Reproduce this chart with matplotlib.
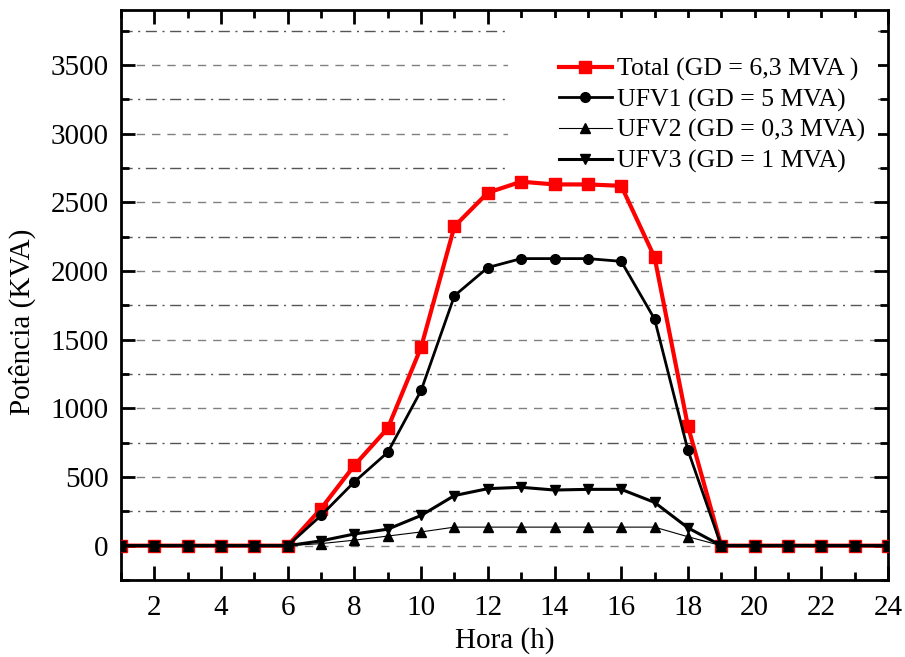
import matplotlib.pyplot as plt
from matplotlib.ticker import MultipleLocator
from matplotlib.patches import Rectangle
import numpy as np

plt.rcParams['font.family'] = ['Liberation Serif', 'DejaVu Serif']

hours = np.arange(1, 25)
total = [0, 0, 0, 0, 0, 0, 270, 585, 855, 1445, 2325, 2570, 2650, 2630, 2630, 2620,
         2100, 870, 0, 0, 0, 0, 0, 0]
ufv1 = [0, 0, 0, 0, 0, 0, 220, 465, 680, 1130, 1820, 2025, 2090, 2090, 2090, 2070,
        1650, 695, 0, 0, 0, 0, 0, 0]
ufv2 = [0, 0, 0, 0, 0, 0, 15, 40, 70, 100, 135, 135, 135, 135, 135, 135,
        135, 65, 0, 0, 0, 0, 0, 0]
ufv3 = [0, 0, 0, 0, 0, 0, 35, 85, 120, 220, 365, 415, 425, 405, 410, 410,
        315, 130, 0, 0, 0, 0, 0, 0]

labels = ['Total (GD = 6,3 MVA )', 'UFV1 (GD = 5 MVA)',
          'UFV2 (GD = 0,3 MVA)', 'UFV3 (GD = 1 MVA)']

W, H = 905, 657
fig = plt.figure(figsize=(W / 100, H / 100), dpi=100)
ax = fig.add_axes([121 / W, 1 - 580 / H, (888 - 121) / W, (580 - 10) / H])

ax.plot(hours, total, color='red', lw=3, marker='s', ms=8, label=labels[0], zorder=3)
ax.plot(hours, ufv1, color='black', lw=2, marker='o', ms=7, label=labels[1], zorder=4)
ax.plot(hours, ufv2, color='black', lw=0.8, marker='^', ms=7, label=labels[2], zorder=4)
ax.plot(hours, ufv3, color='black', lw=2.2, marker='v', ms=7, label=labels[3], zorder=4)

ax.set_xlim(1, 24)
ax.set_ylim(-250, 3900)
ax.xaxis.set_major_locator(MultipleLocator(2))
ax.xaxis.set_minor_locator(MultipleLocator(1))
ax.yaxis.set_major_locator(MultipleLocator(500))
ax.yaxis.set_minor_locator(MultipleLocator(250))

ax.grid(True, which='major', axis='y', color='#808080', ls=(0, (6, 5)), lw=1)
ax.grid(True, which='minor', axis='y', color='#555555', ls=(0, (8, 4, 1.5, 4)), lw=1)
ax.set_axisbelow(True)

# white box behind the legend hides the grid there
bg = Rectangle((508 / W, 1 - 188 / H), (878 - 508) / W, (188 - 18) / H,
               transform=fig.transFigure, facecolor='white', edgecolor='none', zorder=1)
ax.add_patch(bg)

ax.tick_params(which='both', direction='in', top=True, right=True, width=2)
ax.tick_params(which='major', length=10, labelsize=21)
ax.tick_params(which='minor', length=6)
ax.tick_params(axis='y', which='major', pad=9)
ax.tick_params(axis='x', which='major', pad=11)
for s in ax.spines.values():
    s.set_linewidth(2)

ax.set_xlabel('Hora (h)', fontsize=21, labelpad=4)
ax.set_ylabel('Potência (KVA)', fontsize=21)
ax.yaxis.set_label_coords(-0.111, 0.453)

leg = ax.legend(loc='upper left', bbox_to_anchor=(546 / W, 1 - 45 / H),
                bbox_transform=fig.transFigure, fontsize=18.5, frameon=False,
                handlelength=2.05, handletextpad=0.2, labelspacing=0.28, borderpad=0)
leg.set_zorder(5)

fig.savefig('out.png', dpi=100)
